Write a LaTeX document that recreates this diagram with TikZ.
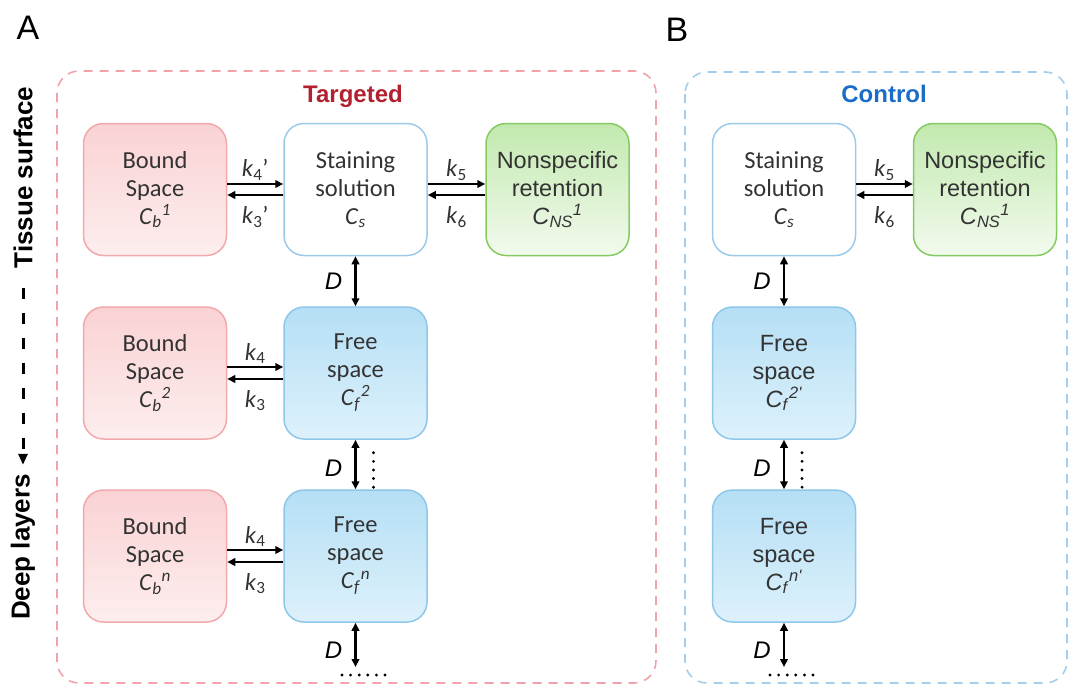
\documentclass[tikz,border=0pt]{standalone}
\usepackage{fontspec}
\setmainfont{Carlito}
\newfontfamily\arial{Liberation Sans}
\usetikzlibrary{arrows.meta,calc}
\definecolor{reddash}{HTML}{F0A3AA}
\definecolor{bluedash}{HTML}{A3CFEC}
\definecolor{targetred}{HTML}{B3202F}
\definecolor{controlblue}{HTML}{1A6CC8}
\definecolor{boundline}{HTML}{F2A9AC}
\definecolor{boundtop}{HTML}{FAD2D4}
\definecolor{boundbot}{HTML}{FDEEEE}
\definecolor{solline}{HTML}{9CCBEA}
\definecolor{nsline}{HTML}{84CB62}
\definecolor{nstop}{HTML}{C2E9AF}
\definecolor{nsbot}{HTML}{F3FAEE}
\definecolor{freeline}{HTML}{8EC7E9}
\definecolor{freetop}{HTML}{B5DFF5}
\definecolor{freemid}{HTML}{E4F4FC}
\definecolor{freebot}{HTML}{DDF1FB}
\definecolor{boxtext}{HTML}{333333}
\begin{document}
\begin{tikzpicture}[x=1pt,y=-1pt,
  box/.style={rounded corners=20pt, minimum width=143pt, minimum height=132pt, inner sep=0pt, align=center, line width=1.5pt, text=boxtext, font=\fontsize{24.5}{28}\selectfont},
  boundbox/.style={box, draw=boundline, top color=boundtop, bottom color=boundbot},
  solbox/.style={box, draw=solline, fill=white},
  nsbox/.style={box, draw=nsline, top color=nstop, bottom color=nsbot, font=\arial\fontsize{23.5}{28}\selectfont},
  freebox/.style={box, draw=freeline, top color=freetop, middle color=freemid, bottom color=freebot},
  cfreebox/.style={freebox, font=\arial\fontsize{23.5}{28}\selectfont},
  rarrow/.style={line width=2.5pt, -{Triangle[length=8pt,width=7.5pt]}},
  darrow/.style={line width=2.5pt, {Triangle[length=8pt,width=7.5pt]}-{Triangle[length=8pt,width=7.5pt]}},
  klabel/.style={inner sep=0pt, text=boxtext, font=\fontsize{24.5}{28}\selectfont},
  dlabel/.style={inner sep=0pt, font=\arial\itshape\fontsize{24}{28}\selectfont},
  dotline/.style={line width=3.2pt, line cap=round, dash pattern=on 0pt off 8.6pt},
  outerbox/.style={rounded corners=22pt, line width=1.6pt, dash pattern=on 9pt off 7pt},
  paneltitle/.style={inner sep=0pt, font=\arial\bfseries\fontsize{24}{28}\selectfont},
  panelletter/.style={inner sep=0pt, font=\arial\fontsize{34}{38}\selectfont},
  sidelabel/.style={inner sep=0pt, rotate=90, font=\arial\bfseries\fontsize{26}{30}\selectfont}
]
\useasboundingbox (0,0) rectangle (1073,685);

% panel letters and frames
\node[panelletter] (A) at (28,28) {A};
\node[panelletter] (B) at (677,30) {B};
\draw[outerbox, draw=reddash] (57,71) rectangle (656,683);
\draw[outerbox, draw=bluedash] (685,72) rectangle (1067,683);
\node[paneltitle, text=targetred] (tt) at (353,96) {Targeted};
\node[paneltitle, text=controlblue] (ct) at (884,94) {Control};

% side labels
\node[sidelabel] (ts) at (23,177.5) {Tissue surface};
\node[sidelabel] (dl) at (23,547) {Deep layers};
\draw[line width=3pt, dash pattern=on 11pt off 14pt, -{Triangle[length=11pt,width=9pt]}, shorten <=19pt, shorten >=9pt] (ts.west) -- (dl.east);

% ---------- panel A ----------
\node[boundbox] (b1) at (155,189.5) {Bound\\Space\\\textit{C}\textsubscript{\textit{b}}\textsuperscript{\textit{1}}};
\node[solbox] (s) at (355.5,189.5) {Staining\\solution\\\textit{C}\textsubscript{\textit{s}}};
\node[nsbox] (ns) at (557.5,189.5) {Nonspecific\\retention\\\textit{C}\textsubscript{\textit{NS}}\textsuperscript{\textit{1}}};

\node[boundbox] (b2) at (155,373) {Bound\\Space\\\textit{C}\textsubscript{\textit{b}}\textsuperscript{\textit{2}}};
\node[freebox] (f2) at (355.5,373) {Free\\space\\\textit{C}\textsubscript{\textit{f}}\textsuperscript{\textit{2}}};

\node[boundbox] (bn) at (155,556) {Bound\\Space\\\textit{C}\textsubscript{\textit{b}}\textsuperscript{\textit{n}}};
\node[freebox] (fn) at (355.5,556) {Free\\space\\\textit{C}\textsubscript{\textit{f}}\textsuperscript{\textit{n}}};

% horizontal exchange arrows
\draw[rarrow] ([yshift=5.5pt]b1.east) -- ([yshift=5.5pt]s.west);
\draw[rarrow] ([yshift=-5.5pt]s.west) -- ([yshift=-5.5pt]b1.east);
\draw[rarrow] ([yshift=5.5pt]s.east) -- ([yshift=5.5pt]ns.west);
\draw[rarrow] ([yshift=-5.5pt]ns.west) -- ([yshift=-5.5pt]s.east);
\draw[rarrow] ([yshift=6pt]b2.east) -- ([yshift=6pt]f2.west);
\draw[rarrow] ([yshift=-6pt]f2.west) -- ([yshift=-6pt]b2.east);
\draw[rarrow] ([yshift=6pt]bn.east) -- ([yshift=6pt]fn.west);
\draw[rarrow] ([yshift=-6pt]fn.west) -- ([yshift=-6pt]bn.east);

\node[klabel, anchor=south] (k4p) at ([yshift=9pt]$(b1.east)!0.5!(s.west)$) {\textit{k}\textsubscript{4}’};
\node[klabel, anchor=north] (k3p) at ([yshift=-17pt]$(b1.east)!0.5!(s.west)$) {\textit{k}\textsubscript{3}’};
\node[klabel, anchor=south] (k5) at ([yshift=9pt]$(s.east)!0.5!(ns.west)$) {\textit{k}\textsubscript{5}};
\node[klabel, anchor=north] (k6) at ([yshift=-17pt]$(s.east)!0.5!(ns.west)$) {\textit{k}\textsubscript{6}};
\node[klabel, anchor=south] (k4a) at ([yshift=9pt]$(b2.east)!0.5!(f2.west)$) {\textit{k}\textsubscript{4}};
\node[klabel, anchor=north] (k3a) at ([yshift=-17pt]$(b2.east)!0.5!(f2.west)$) {\textit{k}\textsubscript{3}};
\node[klabel, anchor=south] (k4b) at ([yshift=9pt]$(bn.east)!0.5!(fn.west)$) {\textit{k}\textsubscript{4}};
\node[klabel, anchor=north] (k3b) at ([yshift=-17pt]$(bn.east)!0.5!(fn.west)$) {\textit{k}\textsubscript{3}};

% vertical diffusion arrows
\coordinate (fnend) at (355.5,667);
\draw[darrow] (s.south) -- (f2.north);
\draw[darrow] (f2.south) -- (fn.north);
\draw[darrow] (fn.south) -- (fnend);
\node[dlabel, anchor=east] (d1) at ([xshift=-13pt]$(s.south)!0.5!(f2.north)$) {D};
\node[dlabel, anchor=east] (d2) at ([xshift=-13pt,yshift=-4pt]$(f2.south)!0.5!(fn.north)$) {D};
\node[dlabel, anchor=east] (d3) at ([xshift=-13pt,yshift=-5pt]$(fn.south)!0.5!(fnend)$) {D};
\draw[dotline] ([xshift=18pt,yshift=-13pt]f2.south) -- ([xshift=18pt,yshift=2pt]fn.north);
\draw[dotline] (342,675) -- (386,675);

% ---------- panel B ----------
\node[solbox] (cs) at (784,189.5) {Staining\\solution\\\textit{C}\textsubscript{\textit{s}}};
\node[nsbox] (cns) at (985,189.5) {Nonspecific\\retention\\\textit{C}\textsubscript{\textit{NS}}\textsuperscript{\textit{1}}};
\node[cfreebox] (cf2) at (784,373) {Free\\space\\\textit{C}\textsubscript{\textit{f}}\textsuperscript{\textit{2'}}};
\node[cfreebox] (cfn) at (784,556) {Free\\space\\\textit{C}\textsubscript{\textit{f}}\textsuperscript{\textit{n'}}};

\draw[rarrow] ([yshift=5.5pt]cs.east) -- ([yshift=5.5pt]cns.west);
\draw[rarrow] ([yshift=-5.5pt]cns.west) -- ([yshift=-5.5pt]cs.east);
\node[klabel, anchor=south] (ck5) at ([yshift=9pt]$(cs.east)!0.5!(cns.west)$) {\textit{k}\textsubscript{5}};
\node[klabel, anchor=north] (ck6) at ([yshift=-17pt]$(cs.east)!0.5!(cns.west)$) {\textit{k}\textsubscript{6}};

\coordinate (cfnend) at (784,667);
\draw[darrow] (cs.south) -- (cf2.north);
\draw[darrow] (cf2.south) -- (cfn.north);
\draw[darrow] (cfn.south) -- (cfnend);
\node[dlabel, anchor=east] (cd1) at ([xshift=-13pt]$(cs.south)!0.5!(cf2.north)$) {D};
\node[dlabel, anchor=east] (cd2) at ([xshift=-13pt,yshift=-4pt]$(cf2.south)!0.5!(cfn.north)$) {D};
\node[dlabel, anchor=east] (cd3) at ([xshift=-13pt,yshift=-5pt]$(cfn.south)!0.5!(cfnend)$) {D};
\draw[dotline] ([xshift=18pt,yshift=-13pt]cf2.south) -- ([xshift=18pt,yshift=2pt]cfn.north);
\draw[dotline] (770,675) -- (814,675);
\end{tikzpicture}
\end{document}
